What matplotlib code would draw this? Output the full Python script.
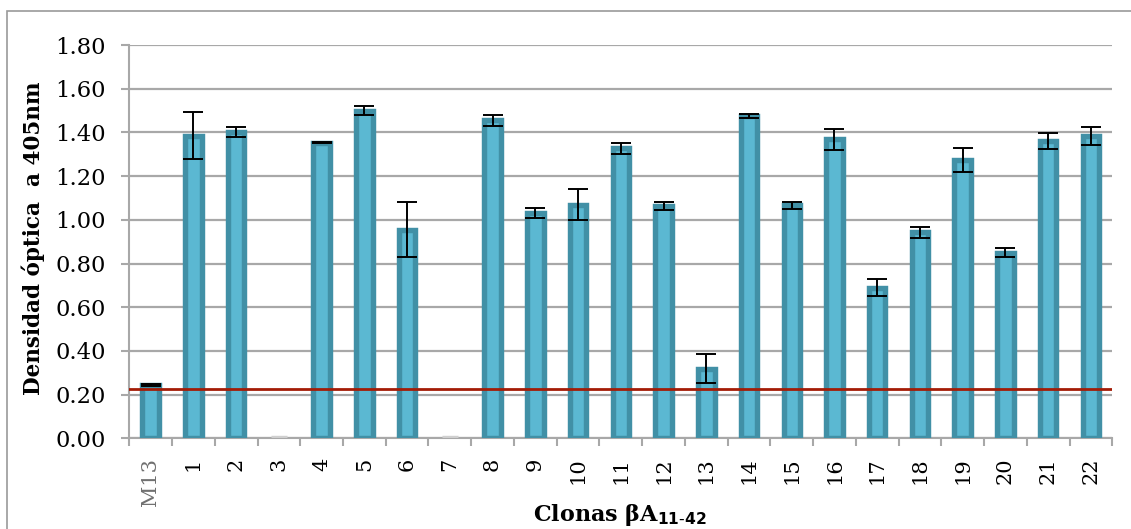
import matplotlib
matplotlib.use("Agg")
import matplotlib.pyplot as plt
import matplotlib.transforms as mtransforms
from matplotlib.patches import Rectangle

categories = ["M13", "1", "2", "3", "4", "5", "6", "7", "8", "9", "10", "11",
              "12", "13", "14", "15", "16", "17", "18", "19", "20", "21", "22"]
values = [0.243, 1.385, 1.40, 0.0, 1.353, 1.50, 0.955, 0.0, 1.455, 1.033, 1.07, 1.327,
          1.064, 0.318, 1.475, 1.066, 1.369, 0.69, 0.942, 1.272, 0.85, 1.36, 1.385]
errors = [0.004, 0.108, 0.023, 0.0, 0.003, 0.02, 0.126, 0.0, 0.024, 0.023, 0.073, 0.025,
          0.018, 0.066, 0.011, 0.015, 0.048, 0.04, 0.025, 0.055, 0.02, 0.035, 0.041]
threshold = 0.227
yticks = [0.0, 0.2, 0.4, 0.6, 0.8, 1.0, 1.2, 1.4, 1.6, 1.8]

W, H = 1131, 529
fig = plt.figure(figsize=(W / 100, H / 100), dpi=100)
fig.patch.set_facecolor("white")

# outer chart border
fig.patches.append(Rectangle((7 / W, -0.1), 1.2, (H - 11) / H + 0.1,
                             transform=fig.transFigure, fill=False,
                             edgecolor="#9a9a9a", linewidth=1.2))

left, right = 129.3 / W, 1112.3 / W
bottom, top = (H - 438.3) / H, (H - 45) / H
ax = fig.add_axes([left, bottom, right - left, top - bottom])

x = list(range(len(categories)))
edge_colors = ["#4190a6" if v > 0 else "#cfcfcf" for v in values]
ax.bar(x, values, width=0.385, color="#5bb8d2", edgecolor=edge_colors,
       linewidth=3.9, zorder=3)
ex = [xi for xi, v in zip(x, values) if v > 0]
ev = [v for v in values if v > 0]
ee = [e for e, v in zip(errors, values) if v > 0]
ax.errorbar(ex, ev, yerr=ee, fmt="none", ecolor="black",
            elinewidth=1.4, capsize=7.5, capthick=1.4, zorder=4)
ax.axhline(threshold, color="#a31c06", linewidth=2.0, zorder=5)

ax.set_xlim(-0.5, len(categories) - 0.5)
ax.set_ylim(0, 1.8)
ax.set_yticks(yticks)
ax.set_yticklabels([f"{v:.2f}" for v in yticks], fontsize=16.3,
                   family="DejaVu Serif")
ax.yaxis.grid(True, color="#a8a8a8", linewidth=1.6, zorder=0)
ax.set_axisbelow(True)

ax.set_xticks(x)
ax.set_xticklabels(categories, rotation=90, fontsize=15, family="DejaVu Serif")
for lbl in ax.get_xticklabels():
    if lbl.get_text() == "M13":
        lbl.set_color("#707070")
        lbl.set_transform(lbl.get_transform() +
                          mtransforms.ScaledTranslation(0, 14 / 72, fig.dpi_scale_trans))
    else:
        lbl.set_color("black")
ax.set_xticks([i + 0.5 for i in range(-1, len(categories))], minor=True)
ax.tick_params(axis="x", which="major", length=0, pad=14)
ax.tick_params(axis="x", which="minor", length=6, width=1.5, color="#a8a8a8")
ax.tick_params(axis="y", length=6, width=1.5, color="#a8a8a8", pad=11)

for s in ["top", "right"]:
    ax.spines[s].set_visible(False)
ax.spines["left"].set_color("#a8a8a8")
ax.spines["left"].set_linewidth(1.5)
ax.spines["bottom"].set_color("#a8a8a8")
ax.spines["bottom"].set_linewidth(1.5)

fig.text(33 / W, (H - 238) / H, "Densidad óptica  a 405nm", rotation=90,
         ha="center", va="center", fontsize=15.5, fontweight="bold",
         family="DejaVu Serif")
fig.text(620 / W, (H - 515) / H, r"Clonas βA$_{\mathbf{11\text{-}42}}$",
         ha="center", va="center", fontsize=16, fontweight="bold",
         family="DejaVu Serif")

fig.savefig("out.png", dpi=100, facecolor="white")
